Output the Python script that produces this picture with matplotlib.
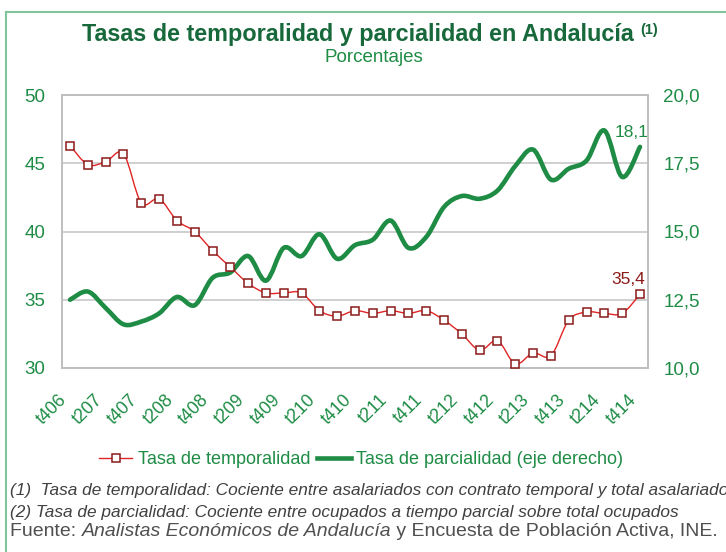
import matplotlib
matplotlib.use("Agg")
import matplotlib.pyplot as plt
import matplotlib.transforms as mtransforms
from matplotlib.path import Path
from matplotlib.patches import PathPatch
from matplotlib.lines import Line2D
from matplotlib.ticker import FuncFormatter, MultipleLocator

# trimestres t406 ... t414
periods = ["t406", "t107", "t207", "t307", "t407", "t108", "t208", "t308", "t408",
           "t109", "t209", "t309", "t409", "t110", "t210", "t310", "t410",
           "t111", "t211", "t311", "t411", "t112", "t212", "t312", "t412",
           "t113", "t213", "t313", "t413", "t114", "t214", "t314", "t414"]

temporalidad = [46.3, 44.9, 45.1, 45.7, 42.1, 42.4, 40.8, 40.0, 38.6, 37.4, 36.2,
                35.5, 35.5, 35.5, 34.2, 33.8, 34.2, 34.0, 34.2, 34.0, 34.2, 33.5,
                32.5, 31.3, 32.0, 30.3, 31.1, 30.9, 33.5, 34.1, 34.0, 34.0, 35.4]

parcialidad = [12.5, 12.8, 12.2, 11.6, 11.7, 12.0, 12.6, 12.3, 13.3, 13.5, 14.1,
               13.2, 14.4, 14.1, 14.9, 14.0, 14.5, 14.7, 15.4, 14.4, 14.8, 15.9,
               16.3, 16.2, 16.5, 17.4, 18.0, 16.9, 17.3, 17.6, 18.7, 17.0, 18.1]

GREEN = "#1e8c45"
DKGREEN = "#17683a"
RED = "#e02424"
DKRED = "#8b1a1a"
GRAY = "#bfbfbf"
TXT = "#404040"

plt.rcParams["font.family"] = ["Liberation Sans", "DejaVu Sans"]


def smooth_path(xs, ys):
    # curva suave estilo Excel (bezier por tramos)
    pts = list(zip(xs, ys))
    n = len(pts)
    verts = [pts[0]]
    codes = [Path.MOVETO]
    for i in range(n - 1):
        p0 = pts[i - 1] if i > 0 else pts[i]
        p1 = pts[i]
        p2 = pts[i + 1]
        p3 = pts[i + 2] if i + 2 < n else pts[i + 1]
        c1 = (p1[0] + (p2[0] - p0[0]) / 6, p1[1] + (p2[1] - p0[1]) / 6)
        c2 = (p2[0] - (p3[0] - p1[0]) / 6, p2[1] - (p3[1] - p1[1]) / 6)
        verts += [c1, c2, p2]
        codes += [Path.CURVE4] * 3
    return Path(verts, codes)


fig = plt.figure(figsize=(7.26, 5.52), dpi=100)
ax = fig.add_axes([62 / 726, 184 / 552, 586 / 726, 273 / 552])
ax2 = ax.twinx()
ax.set_zorder(ax2.zorder + 1)
ax.patch.set_visible(False)

x = list(range(len(periods)))

# parcialidad (eje derecho)
ax2.add_patch(PathPatch(smooth_path(x, parcialidad), facecolor="none",
                        edgecolor=GREEN, lw=3.3, capstyle="round", zorder=3))
ax2.set_ylim(10, 20)
ax2.yaxis.set_major_locator(MultipleLocator(2.5))
ax2.yaxis.set_major_formatter(FuncFormatter(lambda v, p: f"{v:.1f}".replace(".", ",")))
ax2.grid(axis="y", color="#c8c8c8", lw=1.2, zorder=0)
ax2.set_axisbelow(True)

# temporalidad (eje izquierdo)
ax.add_patch(PathPatch(smooth_path(x, temporalidad), facecolor="none",
                       edgecolor=RED, lw=1.0, zorder=3))
ax.plot(x, temporalidad, ls="none", marker="s", ms=6, mfc="white",
        mec=DKRED, mew=1.1, zorder=4)
ax.set_ylim(30, 50)
ax.set_xlim(-0.45, len(periods) - 0.55)
ax.yaxis.set_major_locator(MultipleLocator(5))
ax.yaxis.set_major_formatter(FuncFormatter(lambda v, p: f"{v:.0f}"))

ax.set_xticks(x[::2])
ax.set_xticklabels(periods[::2], rotation=45, ha="right", va="top",
                   fontsize=12.8, color=GREEN)
shift = mtransforms.ScaledTranslation(-8 / 100, 0, fig.dpi_scale_trans)
for lab in ax.get_xticklabels():
    lab.set_transform(lab.get_transform() + shift)

for a in (ax, ax2):
    for s in a.spines.values():
        s.set_color(GRAY)
        s.set_linewidth(1.2)
ax.tick_params(axis="x", length=0, pad=17)
ax.tick_params(axis="y", length=0, pad=12, labelsize=13.5, labelcolor=GREEN)
ax2.tick_params(axis="y", length=0, pad=11, labelsize=13.5, labelcolor=GREEN)

# etiquetas del ultimo dato
ax2.annotate(f"{parcialidad[-1]:.1f}".replace(".", ","), (x[-1], parcialidad[-1]),
             xytext=(6, 10.5), textcoords="offset points", ha="right", va="center",
             fontsize=12.5, color=GREEN)
ax.annotate(f"{temporalidad[-1]:.1f}".replace(".", ","), (x[-1], temporalidad[-1]),
            xytext=(4, 11), textcoords="offset points", ha="right", va="center",
            fontsize=12.5, color=DKRED)

# titulo
fig.text(358 / 726, 1 - 35 / 552, "Tasas de temporalidad y parcialidad en Andalucía",
         ha="center", va="center", fontsize=16.8, fontweight="bold", color=DKGREEN)
fig.text(640 / 726, 1 - 30 / 552, "(1)", ha="left", va="center", fontsize=10.5,
         fontweight="bold", color=DKGREEN)
fig.text(374 / 726, 1 - 58 / 552, "Porcentajes", ha="center", va="center",
         fontsize=13.5, color=GREEN)

# leyenda
h1 = Line2D([], [], color=RED, lw=1.0, marker="s", ms=6, mfc="white", mec=DKRED, mew=1.1)
h2 = Line2D([], [], color=GREEN, lw=3.3)
leg = fig.legend([h1, h2], ["Tasa de temporalidad", "Tasa de parcialidad (eje derecho)"],
                 loc="center", bbox_to_anchor=(361 / 726, 1 - 460 / 552), ncol=2,
                 frameon=False, fontsize=13, handlelength=1.85, handletextpad=0.3,
                 columnspacing=0.4, borderpad=0)
for t in leg.get_texts():
    t.set_color(GREEN)

# notas (la primera queda cortada en el borde, como en el original)
fig.text(10 / 726, 1 - 491 / 552,
         "(1)  Tasa de temporalidad: Cociente entre asalariados con contrato temporal y total asalariados",
         ha="left", va="center", fontsize=12.4, style="italic", color=TXT)
fig.text(10 / 726, 1 - 512 / 552,
         "(2) Tasa de parcialidad: Cociente entre ocupados a tiempo parcial sobre total ocupados",
         ha="left", va="center", fontsize=12.4, style="italic", color=TXT)

renderer = fig.canvas.get_renderer()
xpos = 10
for txt, st in [("Fuente: ", "normal"), ("Analistas Económicos de Andalucía", "italic"),
                (" y Encuesta de Población Activa, INE.", "normal")]:
    t = fig.text(xpos / 726, 1 - 532 / 552, txt, ha="left", va="center",
                 fontsize=14, style=st, color="#505050")
    xpos += t.get_window_extent(renderer).width

# marco verde
fig.add_artist(Line2D([6 / 726, 6 / 726], [0, 1 - 12 / 552], color="#7fc49a", lw=1.5))
fig.add_artist(Line2D([6 / 726, 1], [1 - 12 / 552, 1 - 12 / 552], color="#7fc49a", lw=1.5))

fig.savefig("out.png", dpi=100)
